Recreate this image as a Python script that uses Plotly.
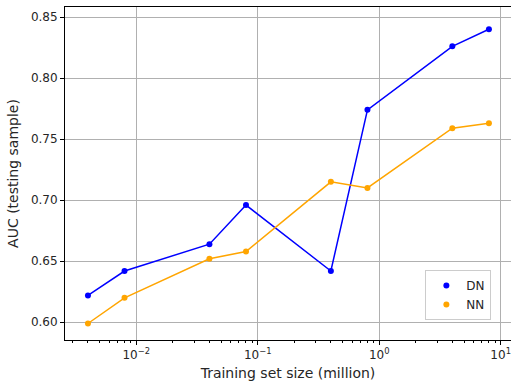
import plotly.graph_objects as go

sizes = [0.004, 0.008, 0.04, 0.08, 0.4, 0.8, 4, 8]
dn_auc = [0.622, 0.642, 0.664, 0.696, 0.642, 0.774, 0.826, 0.840]
nn_auc = [0.599, 0.620, 0.652, 0.658, 0.715, 0.710, 0.759, 0.763]
series = [("DN", dn_auc, "#0000ff"), ("NN", nn_auc, "#ffa500")]
x_tickvals = [0.01, 0.1, 1, 10]
x_ticktext = ["10<sup>−2</sup>", "10<sup>−1</sup>", "10<sup>0</sup>", "10<sup>1</sup>"]
y_tickvals = [0.60, 0.65, 0.70, 0.75, 0.80, 0.85]

fig = go.Figure()
for name, vals, col in series:
    fig.add_trace(go.Scatter(x=sizes, y=vals, mode="lines", line=dict(color=col, width=1.5),
                             showlegend=False, hoverinfo="skip"))
for name, vals, col in series:
    fig.add_trace(go.Scatter(x=sizes, y=vals, mode="markers", name=name,
                             marker=dict(color=col, size=6)))

font = dict(family="DejaVu Sans", size=12, color="#262626")
fig.update_layout(
    width=511, height=385,
    margin=dict(l=65, r=0, t=7, b=45),
    plot_bgcolor="white", paper_bgcolor="white",
    font=font,
    legend=dict(x=0.808, y=0.21, xanchor="left", yanchor="top",
                bordercolor="#cccccc", borderwidth=1, bgcolor="rgba(255,255,255,0.8)",
                font=dict(family="DejaVu Sans", size=12, color="#262626"),
                itemwidth=30, tracegroupgap=0),
)
fig.update_xaxes(type="log", range=[-2.587, 1.085],
                 tickvals=x_tickvals, ticktext=x_ticktext,
                 showline=True, linecolor="black", linewidth=1, mirror=True,
                 ticks="outside", ticklen=4, tickcolor="black",
                 showgrid=True, gridcolor="#b0b0b0", gridwidth=1,
                 minor=dict(ticks="outside", ticklen=2, tickcolor="black", showgrid=False,
                            tickvals=[m * 10**e for e in [-3, -2, -1, 0, 1] for m in range(2, 10)]),
                 zeroline=False,
                 title=dict(text="Training set size (million)", standoff=6))
fig.update_yaxes(range=[0.5855, 0.8582], tickvals=y_tickvals, tickformat=".2f",
                 showline=True, linecolor="black", linewidth=1, mirror=False,
                 ticks="outside", ticklen=4, tickcolor="black",
                 showgrid=True, gridcolor="#b0b0b0", gridwidth=1, zeroline=False,
                 title=dict(text="AUC (testing sample)", standoff=8))
fig.write_html("out.html")
